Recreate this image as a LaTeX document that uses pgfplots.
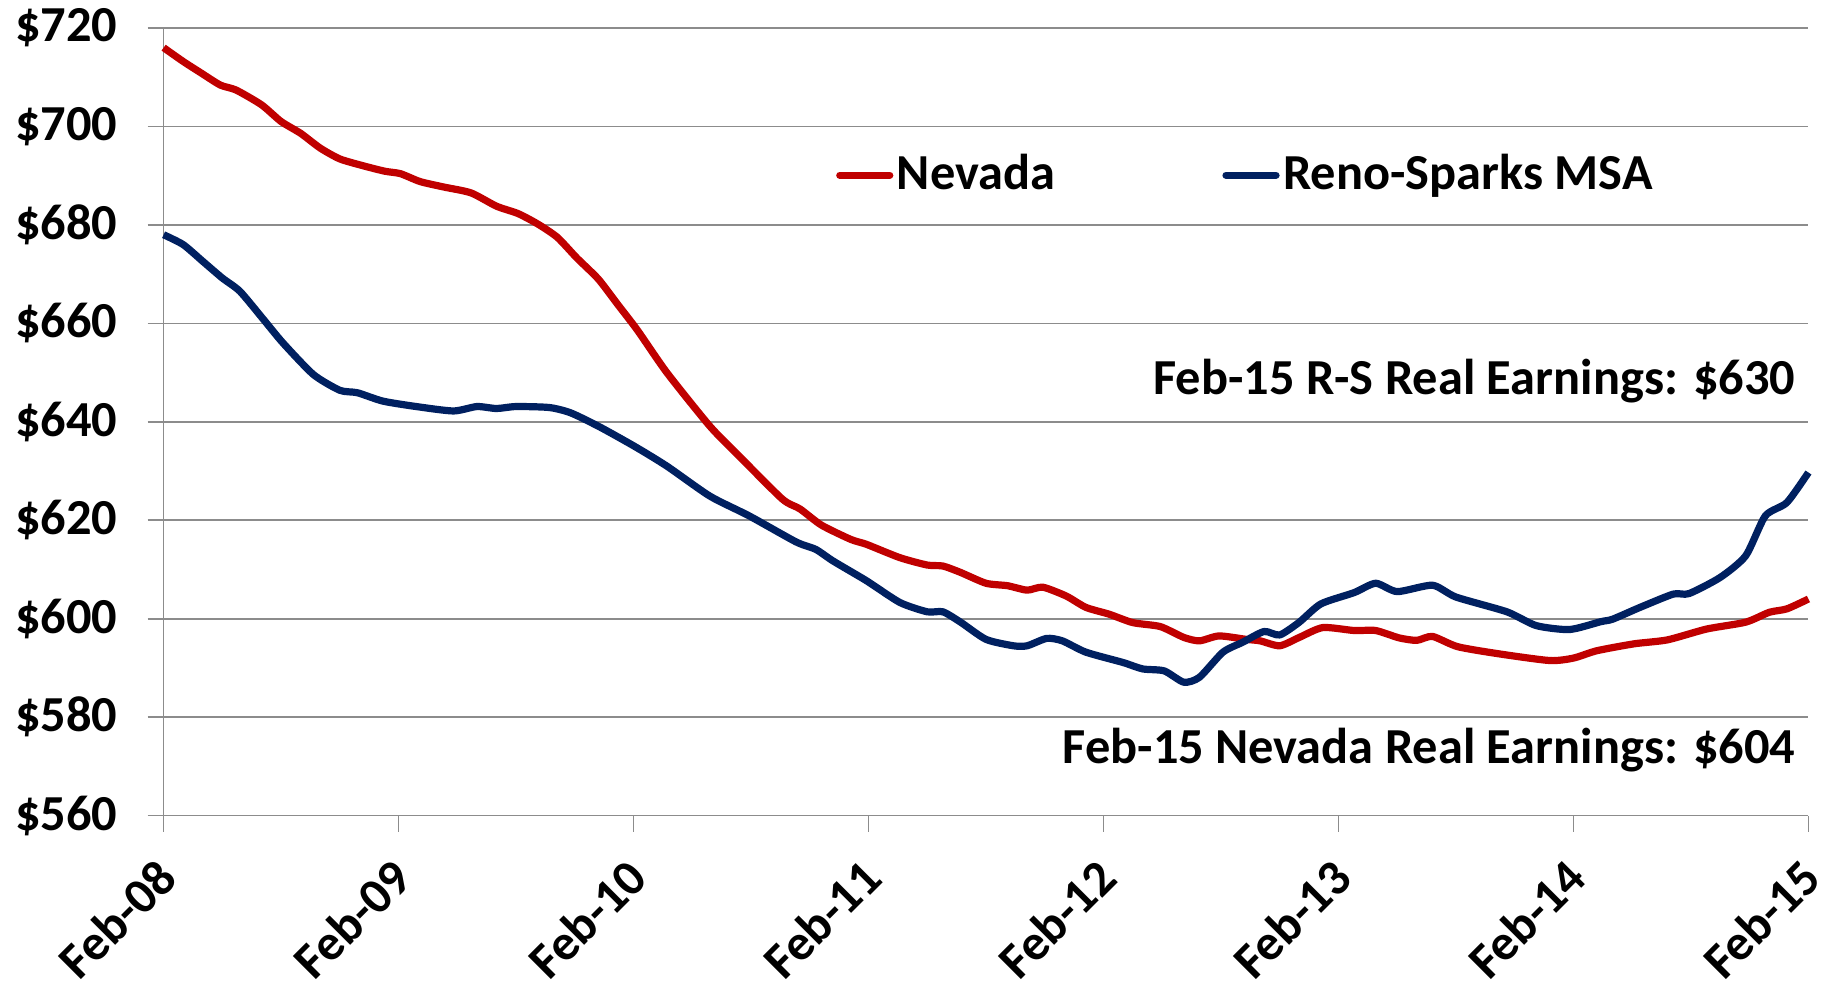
\documentclass[border=0pt]{standalone}
\usepackage{pgfplots}
\pgfplotsset{compat=1.18}
\usepackage{pgfplotstable}
\usepackage{fontspec}
\setmainfont{Carlito}
\definecolor{nvred}{RGB}{192,0,0}
\definecolor{rsblue}{RGB}{0,32,96}
\definecolor{gridgray}{RGB}{140,140,140}

\pgfplotstableread{
m v
0 716.0
1.0 713.2
1.9 710.9
2.9 708.4
3.7 707.4
5.0 704.4
6.0 701.0
7.0 698.6
8.0 695.6
9.0 693.4
10.2 692.0
11.3 690.9
12.1 690.4
13.1 688.8
14.3 687.7
15.7 686.5
17.0 683.8
18.1 682.3
19.1 680.2
20.1 677.5
21.1 673.3
22.2 669.0
23.2 663.8
24.2 658.6
25.7 650.0
27.9 639.1
29.4 633.0
31.6 624.3
32.5 622.3
33.6 619.0
35.1 616.1
35.9 615.1
37.6 612.4
39.0 610.9
39.8 610.7
40.7 609.4
42.0 607.2
43.1 606.7
44.1 605.8
44.9 606.4
46.1 604.6
47.1 602.3
48.3 600.9
49.5 599.2
50.9 598.4
52.1 596.2
52.9 595.5
53.9 596.5
55.3 595.8
56.0 595.5
57.0 594.5
58.0 596.2
59.2 598.2
60.8 597.6
61.9 597.6
63.1 596.1
64.0 595.6
64.8 596.4
66.1 594.3
68.3 592.8
70.8 591.5
72.0 592.0
73.2 593.5
75.1 594.9
76.8 595.7
78.8 597.9
80.8 599.3
82.0 601.3
82.9 602.0
84.0 604.0
}\nevada

\pgfplotstableread{
m v
0 678.0
1.0 676.0
2.0 672.6
3.0 669.2
3.9 666.5
5.1 660.8
6.1 656.0
7.65 649.6
9.0 646.4
9.9 645.9
11.2 644.2
12.9 643.1
14.8 642.2
16.0 643.1
17.0 642.7
18.0 643.1
19.7 642.9
20.8 641.8
22.3 638.9
24.1 634.9
25.7 631.0
27.9 624.9
29.9 620.9
32.3 615.6
33.3 614.1
34.2 611.7
35.9 607.7
37.6 603.3
39.0 601.4
39.8 601.4
40.7 599.3
42.0 595.8
43.4 594.5
44.1 594.5
45.1 596.0
45.9 595.5
47.1 593.2
49.0 591.1
50.0 589.8
51.1 589.4
52.1 587.1
52.9 588.1
54.1 593.2
55.1 595.2
56.2 597.4
57.0 596.7
58.0 599.3
59.1 603.0
60.8 605.3
61.9 607.2
63.0 605.5
64.8 606.8
66.0 604.4
68.6 601.4
70.1 598.6
71.8 597.8
73.4 599.4
74.0 599.9
75.4 602.3
77.1 605.0
77.9 605.1
79.5 608.4
80.8 612.8
81.8 620.9
82.9 623.6
84.0 629.7
}\reno

\begin{document}
\begin{tikzpicture}
\begin{axis}[
  scale only axis,
  width=411.2pt, height=196.9pt,
  xmin=0, xmax=84, ymin=560, ymax=720,
  xtick={0,12,24,36,48,60,72,84},
  xticklabels={Feb-08,Feb-09,Feb-10,Feb-11,Feb-12,Feb-13,Feb-14,Feb-15},
  ytick={560,580,600,620,640,660,680,700,720},
  yticklabels={\$560,\$580,\$600,\$620,\$640,\$660,\$680,\$700,\$720},
  axis x line*=bottom, axis y line*=left,
  axis line style={-, draw=gridgray, line width=0.4pt},
  ymajorgrids, grid style={draw=gridgray, line width=0.4pt},
  tick align=outside, major tick length=4pt,
  tick style={draw=gridgray, line width=0.4pt},
  ticklabel style={font=\fontsize{12.6}{15}\selectfont\bfseries, text=black},
  yticklabel style={xshift=-4pt},
  xticklabel style={xshift=3.3pt, yshift=-6.9pt, rotate=45, anchor=east},
  /pgf/number format/assume math mode=true,
  legend columns=2,
  legend style={draw=none, fill=none, at={(rel axis cs:0.4106,0.813)}, anchor=west,
    font=\fontsize{12.6}{15}\selectfont\bfseries, inner sep=0pt,
    nodes={inner xsep=2pt},
    /tikz/every even column/.append style={column sep=40.7pt}},
  legend image code/.code={\draw[#1, line width=1.8pt, line cap=round, overlay] (0pt,0pt) -- (12.5pt,0pt); \path[draw=none, fill=none] (0pt,-2pt) rectangle (12.3pt,2pt);},
  clip=false,
]
\addplot[nvred, line width=1.8pt, smooth, tension=0.4, line join=round] table[x=m,y=v]{\nevada};
\addlegendentry{Nevada}
\addplot[rsblue, line width=1.8pt, smooth, tension=0.4, line join=round] table[x=m,y=v]{\reno};
\addlegendentry{Reno-Sparks MSA}
\node[anchor=east, inner sep=0pt, font=\fontsize{12.6}{15}\selectfont\bfseries] at (axis cs:83.37,648.2) {Feb-15 R-S Real Earnings: \$630};
\node[anchor=east, inner sep=0pt, font=\fontsize{12.6}{15}\selectfont\bfseries] at (axis cs:83.37,573.3) {Feb-15 Nevada Real Earnings: \$604};
\coordinate (ll) at (rel axis cs:0,0);
\coordinate (ur) at (rel axis cs:1,1);
\end{axis}
\pgfresetboundingbox
\path ([xshift=-40.9pt,yshift=-41.9pt]ll) rectangle ([xshift=5.9pt,yshift=7pt]ur);
\end{tikzpicture}
\end{document}
